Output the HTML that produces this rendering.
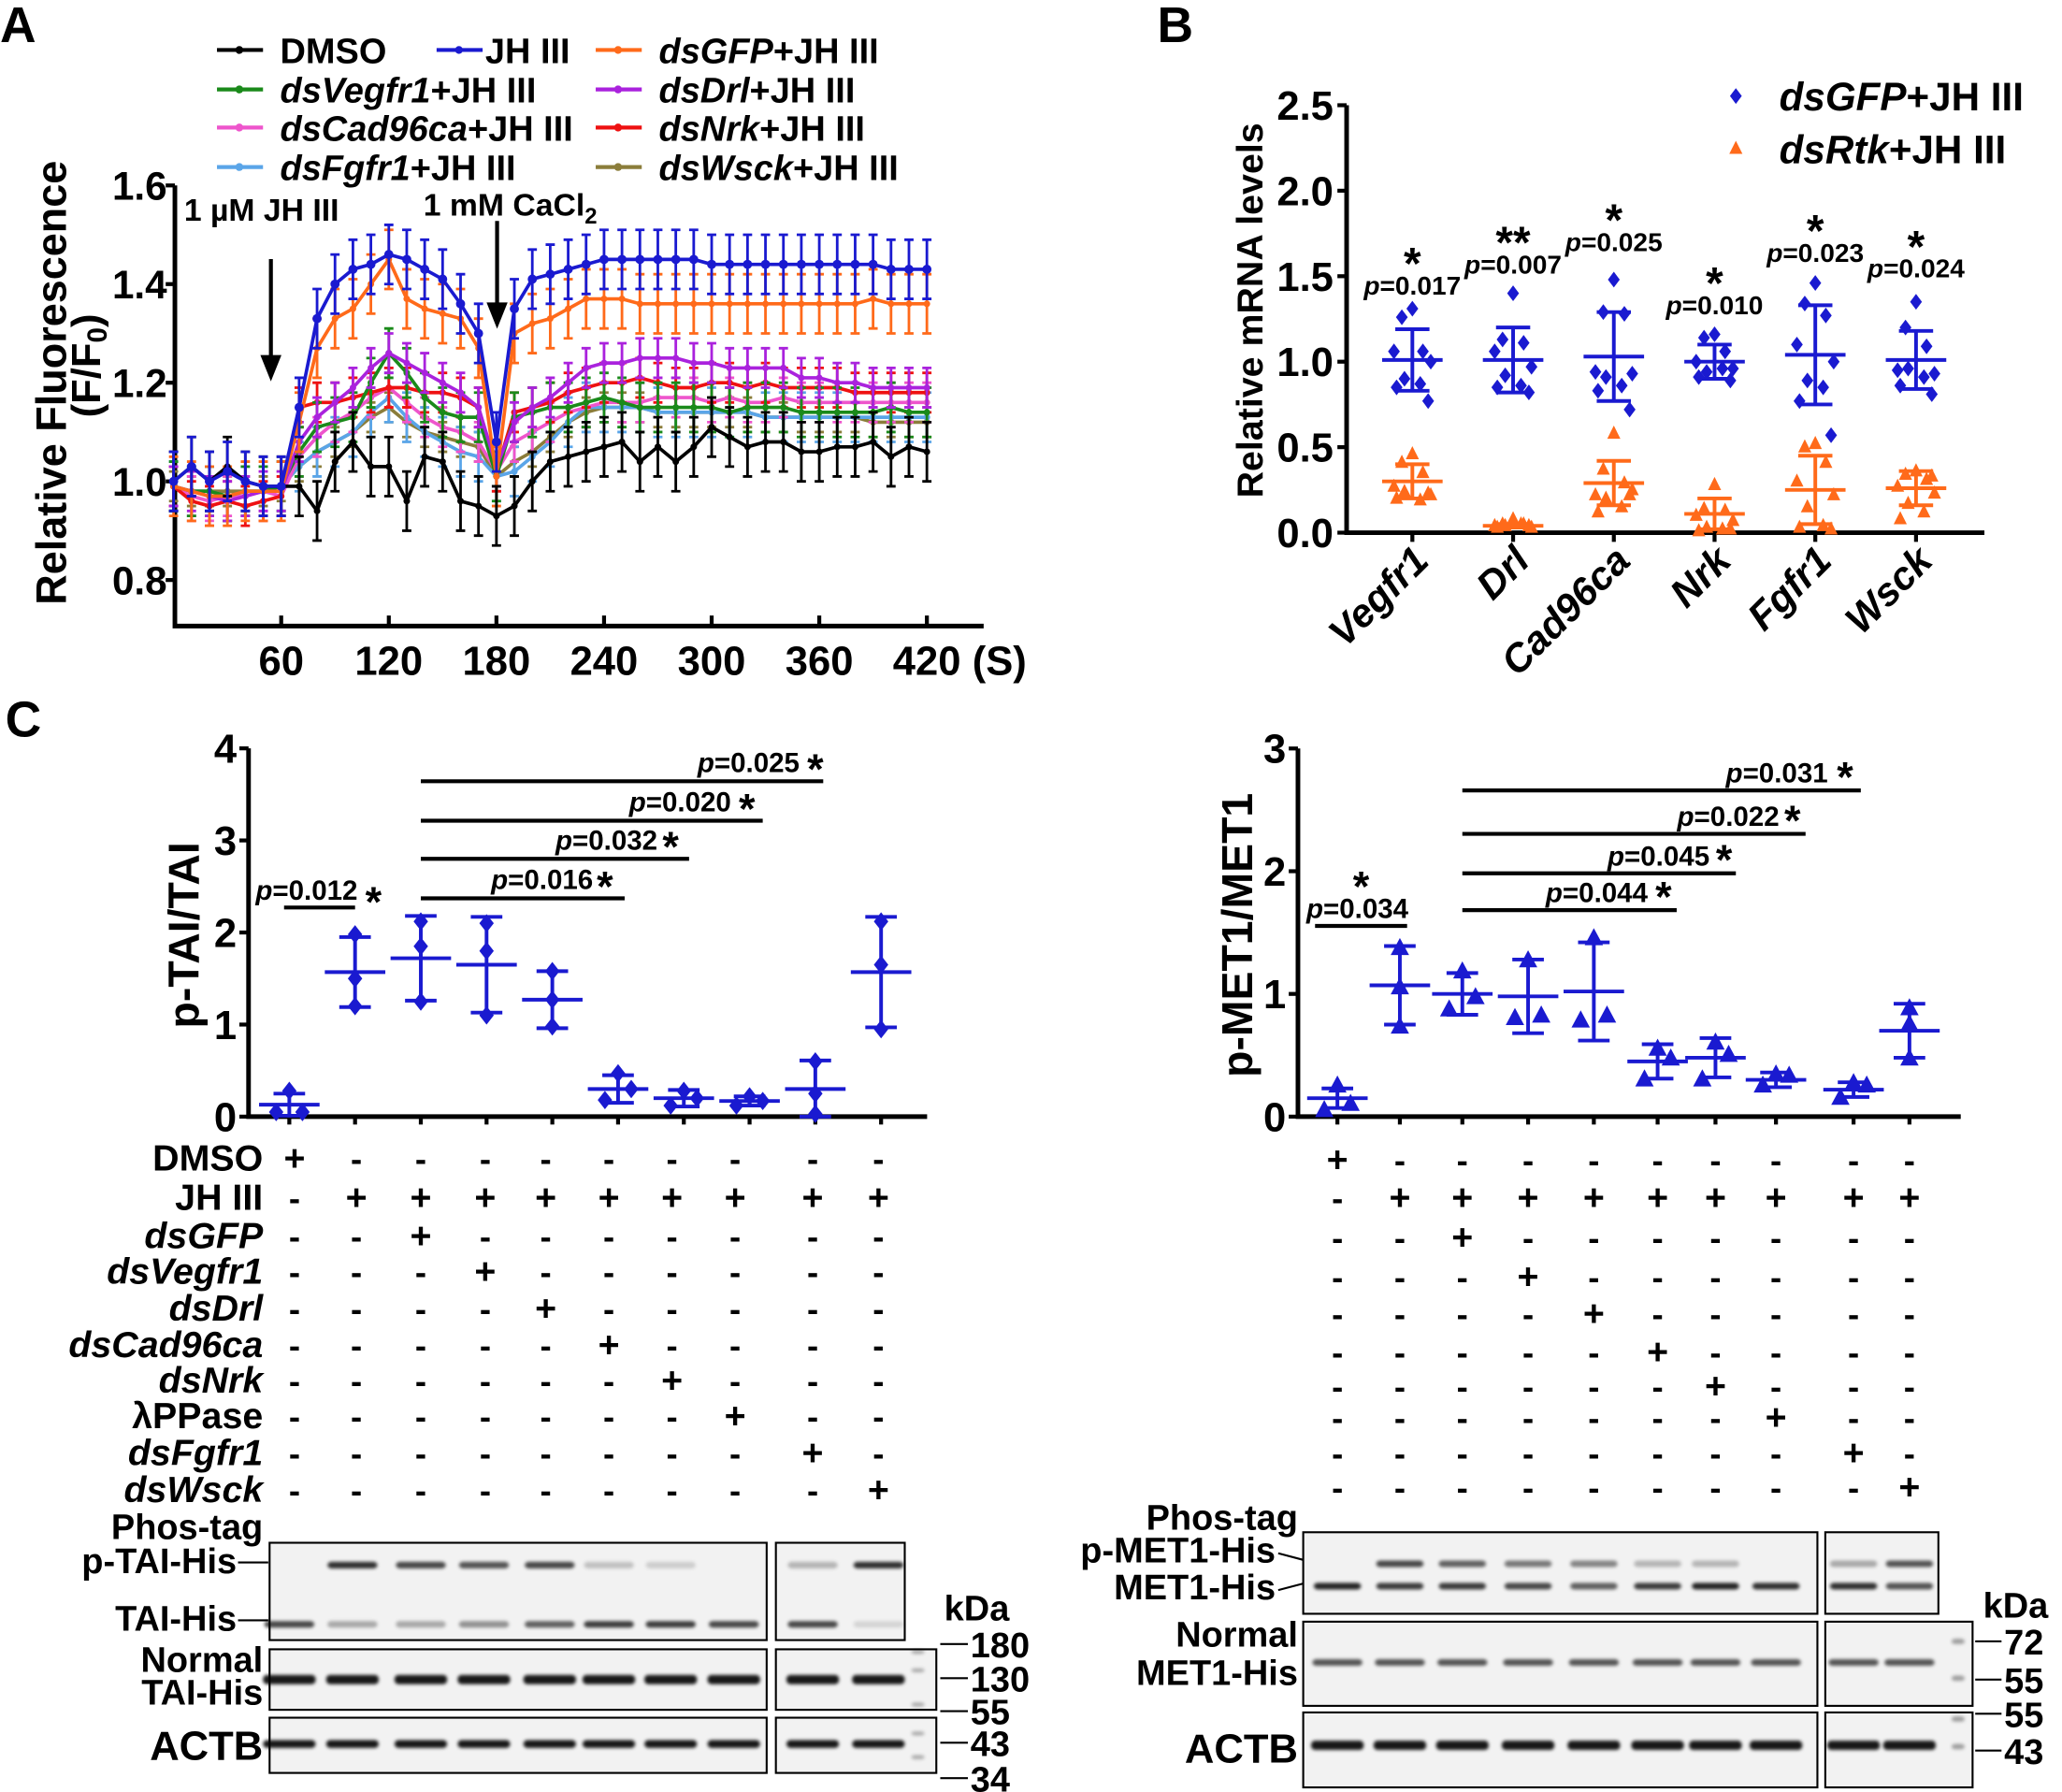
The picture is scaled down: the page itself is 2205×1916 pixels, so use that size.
<!DOCTYPE html>
<html><head><meta charset="utf-8"><style>
html,body{margin:0;padding:0;background:#fff;}
svg{display:block;}
text{font-family:"Liberation Sans",Arial,sans-serif;font-weight:bold;fill:#000;}
</style></head><body>
<svg id="fig" xmlns="http://www.w3.org/2000/svg" width="2205" height="1916" viewBox="0 0 1568 1362.5" preserveAspectRatio="none">
<defs><filter id="blur" x="-20%" y="-200%" width="140%" height="500%"><feGaussianBlur stdDeviation="1.4"/></filter></defs>
<rect x="0" y="0" width="1568" height="1362.5" fill="#fff"/>
<text x="0" y="32" font-size="38">A</text>
<text x="880" y="32" font-size="38">B</text>
<text x="4" y="560" font-size="38">C</text>
<g id="gA"></g>
<g id="gB"></g>
<g id="gC1"></g>
<g id="gC2"></g>
<g id="gBlot"></g>
</svg>
<script>
// ---------- Panel A data ----------
const tA=[0,10,20,30,40,50,60,70,80,90,100,110,120,130,140,150,160,170,180,190,200,210,220,230,240,250,260,270,280,290,300,310,320,330,340,350,360,370,380,390,400,410,420];
const sDMSO=[1.0,1.03,1.0,1.03,1.0,0.99,0.99,0.99,0.94,1.04,1.08,1.03,1.03,0.96,1.05,1.04,0.96,0.95,0.93,0.95,1.00,1.04,1.05,1.06,1.07,1.08,1.04,1.07,1.04,1.07,1.11,1.09,1.07,1.08,1.08,1.06,1.06,1.07,1.07,1.08,1.05,1.07,1.06];
const sJH=[1.0,1.03,1.0,1.02,1.0,0.99,0.99,1.15,1.33,1.40,1.43,1.44,1.46,1.45,1.43,1.41,1.36,1.30,1.08,1.35,1.41,1.42,1.43,1.44,1.45,1.45,1.45,1.45,1.45,1.45,1.44,1.44,1.44,1.44,1.44,1.44,1.44,1.44,1.44,1.44,1.43,1.43,1.43];
const sGFP=[0.99,0.98,0.97,0.97,0.98,0.98,0.98,1.12,1.27,1.33,1.35,1.40,1.45,1.37,1.35,1.34,1.33,1.27,1.01,1.30,1.32,1.33,1.35,1.37,1.37,1.37,1.36,1.36,1.36,1.36,1.36,1.36,1.36,1.36,1.36,1.36,1.36,1.36,1.36,1.37,1.36,1.36,1.36];
const sVegfr1=[0.99,0.98,0.98,0.97,0.98,0.98,0.99,1.06,1.11,1.12,1.13,1.20,1.26,1.22,1.17,1.14,1.13,1.13,1.01,1.13,1.14,1.15,1.15,1.16,1.17,1.16,1.15,1.15,1.15,1.15,1.15,1.14,1.15,1.15,1.15,1.14,1.14,1.14,1.14,1.14,1.15,1.14,1.14];
const sDrl=[0.99,0.98,0.97,0.96,0.97,0.98,0.98,1.08,1.13,1.16,1.19,1.23,1.26,1.24,1.22,1.20,1.18,1.15,1.03,1.12,1.15,1.17,1.20,1.23,1.24,1.24,1.25,1.25,1.25,1.24,1.24,1.23,1.23,1.23,1.23,1.21,1.21,1.20,1.20,1.19,1.19,1.19,1.19];
const sCad=[0.99,0.97,0.96,0.97,0.97,0.98,0.97,1.05,1.09,1.12,1.14,1.17,1.19,1.16,1.13,1.11,1.10,1.08,1.02,1.08,1.10,1.12,1.14,1.15,1.16,1.16,1.16,1.17,1.17,1.17,1.16,1.17,1.16,1.16,1.17,1.16,1.16,1.16,1.16,1.16,1.16,1.16,1.16];
const sNrk=[0.99,0.96,0.95,0.96,0.95,0.96,0.97,1.15,1.16,1.16,1.17,1.18,1.19,1.19,1.18,1.18,1.17,1.15,1.02,1.14,1.15,1.16,1.18,1.19,1.20,1.20,1.21,1.20,1.19,1.19,1.20,1.20,1.19,1.20,1.19,1.19,1.19,1.19,1.18,1.18,1.18,1.18,1.18];
const sFgfr1=[0.99,0.98,0.98,0.97,0.98,0.98,0.99,1.03,1.06,1.08,1.10,1.14,1.17,1.13,1.10,1.08,1.06,1.05,1.01,1.02,1.05,1.08,1.12,1.15,1.15,1.15,1.15,1.14,1.14,1.14,1.14,1.14,1.14,1.13,1.13,1.13,1.13,1.13,1.13,1.13,1.13,1.13,1.13];
const sWsck=[0.99,0.98,0.98,0.98,0.98,0.98,0.99,1.03,1.06,1.08,1.10,1.13,1.15,1.12,1.10,1.09,1.08,1.07,1.01,1.04,1.06,1.09,1.12,1.14,1.15,1.15,1.15,1.14,1.14,1.14,1.14,1.14,1.14,1.13,1.13,1.13,1.13,1.13,1.13,1.12,1.12,1.12,1.12];
const errA=[0.06,0.06,0.06,0.05,0.04,0.04,0.04,0.05,0.03];
const yTicksA=[0.8,1.0,1.2,1.4,1.6];
const xTicksA=[60,120,180,240,300,360,420];

// ---------- Panel B data ----------
const genesB=["Vegfr1","Drl","Cad96ca","Nrk","Fgfr1","Wsck"];
const gfpMean=[1.01,1.01,1.03,1.0,1.04,1.01];
const gfpSD=[0.18,0.19,0.26,0.10,0.29,0.17];
const gfpPts=[[1.31,1.26,1.06,1.06,1.0,0.9,0.87,0.85,0.77],[1.4,1.13,1.11,1.06,0.97,0.92,0.86,0.85,0.82],[1.48,1.29,1.28,0.94,0.93,0.91,0.86,0.83,0.72],[1.16,1.14,1.06,1.0,0.96,0.94,0.96,0.91,0.89],[1.46,1.34,1.27,1.1,1.0,0.89,0.85,0.77,0.57],[1.35,1.2,1.09,0.95,0.93,0.96,0.91,0.86,0.81]];
const rtkMean=[0.30,0.04,0.29,0.11,0.25,0.26];
const rtkSD=[0.10,0.01,0.13,0.09,0.20,0.10];
const rtkPts=[[0.46,0.41,0.35,0.27,0.22,0.24,0.19,0.2,0.23],[0.08,0.05,0.05,0.04,0.03,0.04,0.05,0.03,0.04],[0.58,0.37,0.29,0.22,0.25,0.20,0.15,0.12,0.22],[0.28,0.14,0.13,0.10,0.07,0.03,0.02,0.01,0.02],[0.52,0.50,0.41,0.30,0.22,0.15,0.04,0.03,0.02],[0.36,0.34,0.31,0.27,0.23,0.17,0.12,0.08,0.33]];
const pLabB=["p=0.017","p=0.007","p=0.025","p=0.010","p=0.023","p=0.024"];
const starB=["*","**","*","*","*","*"];
const yTicksB=[0,0.5,1.0,1.5,2.0,2.5];

// ---------- Panel C data ----------
const taiMean=[0.13,1.57,1.72,1.65,1.27,0.30,0.20,0.17,0.30,1.57];
const taiSD=[0.12,0.38,0.46,0.52,0.31,0.15,0.09,0.05,0.31,0.60];
const taiPts=[[0.28,0.05,0.05],[1.98,1.5,1.2],[2.12,1.85,1.25],[2.1,1.8,1.1],[1.58,1.27,0.98],[0.47,0.3,0.18],[0.28,0.2,0.12],[0.22,0.17,0.12],[0.6,0.25,0.03],[2.12,1.65,0.95]];
const metMean=[0.15,1.07,1.0,0.98,1.02,0.45,0.48,0.30,0.22,0.70];
const metSD=[0.08,0.32,0.17,0.30,0.40,0.14,0.16,0.06,0.06,0.22];
const metPts=[[0.25,0.1,0.05],[1.37,1.05,0.73],[1.18,0.97,0.87],[1.27,0.82,0.8],[1.45,0.82,0.78],[0.55,0.47,0.3],[0.6,0.5,0.3],[0.34,0.33,0.25],[0.27,0.25,0.15],[0.88,0.75,0.47]];
const treatRows=["DMSO","JH III","dsGFP","dsVegfr1","dsDrl","dsCad96ca","dsNrk","λPPase","dsFgfr1","dsWsck"];
const treatPlusCol=[[0],[1,2,3,4,5,6,7,8,9],[2],[3],[4],[5],[6],[7],[8],[9]];
const taiBandP=[0,0.8,0.7,0.65,0.7,0.2,0.15,0,0.25,0.8];
const taiBandU=[0.7,0.3,0.3,0.4,0.6,0.75,0.75,0.7,0.7,0.12];
const metBandP=[0,0.7,0.6,0.5,0.45,0.25,0.25,0,0.3,0.65];
const metBandU=[0.85,0.75,0.75,0.7,0.6,0.75,0.85,0.8,0.8,0.65];

const NS="http://www.w3.org/2000/svg";
function mk(tag,attrs,parent){const e=document.createElementNS(NS,tag);for(const k in attrs)e.setAttribute(k,attrs[k]);parent.appendChild(e);return e;}
function txt(s,x,y,size,parent,anchor,extra){const t=mk("text",Object.assign({x:x,y:y,"font-size":size,"text-anchor":anchor||"start"},extra||{}),parent);t.textContent=s;return t;}

// ================= Panel A =================
(function(){
const g=document.getElementById("gA");
const X=t=>132+t*(491/360);
const Y=v=>366-(v-1)*375;
const ax=mk("path",{d:"M133,141 V476 H748",fill:"none",stroke:"#000","stroke-width":3.5},g);


yTicksA.forEach(v=>{
 const l=mk("line",{x1:126,x2:133,y1:Y(v),y2:Y(v),stroke:"#000","stroke-width":3},g);
 
 
 const t=txt(v.toFixed(1),127,Y(v)+11,30,g,"end");
 
 
});
xTicksA.forEach(v=>{
 const l=mk("line",{x1:X(v),x2:X(v),y1:476,y2:468,stroke:"#000","stroke-width":3},g);
 
 
 const t=txt(String(v),X(v),513,31,g,"middle");
 
 
});
const su=txt("(S)",760,513,31,g,"middle");


const yl=mk("text",{x:0,y:0,"font-size":32,"text-anchor":"middle",transform:"translate(50,291) rotate(-90)"},g);
yl.textContent="Relative Fluorescence";


const yl2=mk("text",{x:0,y:0,"font-size":31,"text-anchor":"middle",transform:"translate(76,278) rotate(-90)"},g);
yl2.innerHTML='(F/F<tspan font-size="21" dy="5">0</tspan><tspan dy="-5">)</tspan>';


const a1=txt("1 µM JH III",140,168,24,g,"start");


const a2=mk("text",{x:322,y:164,"font-size":24},g);
a2.innerHTML='1 mM CaCl<tspan font-size="17" dy="6">2</tspan>';


[[206,197,290],[378,168,250]].forEach(a=>{
 const p=mk("g",{},g);
 
 
 mk("line",{x1:a[0],x2:a[0],y1:a[1],y2:a[2]-18,stroke:"#000","stroke-width":3},p);
 mk("polygon",{points:`${a[0]-8},${a[2]-20} ${a[0]+8},${a[2]-20} ${a[0]},${a[2]}`,fill:"#000"},p);
});
const series=[
 {n:"dsWsck",d:sWsck,c:"#8b7d3a",e:errA[8]},
 {n:"dsFgfr1",d:sFgfr1,c:"#5aa5e8",e:errA[7]},
 {n:"dsCad96ca",d:sCad,c:"#ee55cc",e:errA[5]},
 {n:"dsNrk",d:sNrk,c:"#ee1111",e:errA[6]},
 {n:"dsVegfr1",d:sVegfr1,c:"#1a8a1a",e:errA[3]},
 {n:"dsDrl",d:sDrl,c:"#aa22dd",e:errA[4]},
 {n:"dsGFP",d:sGFP,c:"#ff6a1a",e:errA[2]},
 {n:"DMSO",d:sDMSO,c:"#000",e:errA[0]},
 {n:"JH",d:sJH,c:"#1a1ad0",e:errA[1]}];
series.forEach(s=>{
 const sg=mk("g",{},g);
 
 
 const n=Math.min(tA.length,s.d.length);
 let d="";
 for(let i=0;i<n;i++){
  const x=X(tA[i]),y=Y(s.d[i]),y1=Y(s.d[i]+s.e),y2=Y(s.d[i]-s.e);
  const eb=mk("path",{d:`M${x},${y1}V${y2}M${x-3.5},${y1}H${x+3.5}M${x-3.5},${y2}H${x+3.5}`,stroke:s.c,"stroke-width":2,fill:"none"},sg);
  
  
  d+=(i?"L":"M")+x+","+y;
 }
 const ln=mk("path",{d:d,stroke:s.c,"stroke-width":2.6,fill:"none"},sg);
 
 
 for(let i=0;i<n;i++){
  const x=X(tA[i]),y=Y(s.d[i]);
  const pt=mk("circle",{cx:x,cy:y,r:s.n==="JH"?3.5:2.5,fill:s.c},sg);
  
  
 }
});
const leg=[["DMSO","",165,38,"#000"],["JH III","",332,38,"#1a1ad0"],["dsGFP","+JH III",453,38,"#ff6a1a"],
["dsVegfr1","+JH III",165,68,"#1a8a1a"],["dsDrl","+JH III",453,68,"#aa22dd"],
["dsCad96ca","+JH III",165,97,"#ee55cc"],["dsNrk","+JH III",453,97,"#ee1111"],
["dsFgfr1","+JH III",165,127,"#5aa5e8"],["dsWsck","+JH III",453,127,"#8b7d3a"]];
leg.forEach(l=>{
 const lg=mk("g",{},g);
 
 
 const tx=l[2]===332?369:l[2]+48;
 mk("line",{x1:l[2],x2:l[2]+35,y1:l[3],y2:l[3],stroke:l[4],"stroke-width":3},lg);
 mk("circle",{cx:l[2]+17,cy:l[3],r:3,fill:l[4]},lg);
 const t=mk("text",{x:tx,y:l[3]+10,"font-size":27},lg);
 if(l[1]) t.innerHTML='<tspan font-style="italic">'+l[0]+'</tspan>'+l[1]; else t.textContent=l[0];
});
})();

// ================= Panel B =================
(function(){
const g=document.getElementById("gB");
const Y=v=>405-v*130;
const X=i=>1074+i*76.6;
const ax=mk("path",{d:"M1024,80 V405 H1509",fill:"none",stroke:"#000","stroke-width":3.5},g);


yTicksB.forEach(v=>{
 const l=mk("line",{x1:1017,x2:1024,y1:Y(v),y2:Y(v),stroke:"#000","stroke-width":3},g);
 
 
 const t=txt(v.toFixed(1),1014,Y(v)+11,31,g,"end");
 
 
});
const yl=mk("text",{x:0,y:0,"font-size":28,"text-anchor":"middle",transform:"translate(960,236) rotate(-90)"},g);
yl.textContent="Relative mRNA levels";


const pY=[224,208,191,239,199,211];
genesB.forEach((gn,i)=>{
 const x=X(i);
 const tk=mk("line",{x1:x,x2:x,y1:405,y2:412,stroke:"#000","stroke-width":3},g);
 
 
 const lb=mk("text",{x:0,y:0,"font-size":30,"font-style":"italic","text-anchor":"end",transform:`translate(${x+14},${428}) rotate(-45)`},g);
 lb.textContent=gn;
 
 
 [[gfpMean,gfpSD,gfpPts,"#1a1ad0","dia"],[rtkMean,rtkSD,rtkPts,"#ff6a1a","tri"]].forEach(S=>{
  const m=S[0][i],sd=S[1][i];
  const eb=mk("path",{d:`M${x-23},${Y(m)}H${x+23}M${x},${Y(m+sd)}V${Y(m-sd)}M${x-13},${Y(m+sd)}H${x+13}M${x-13},${Y(m-sd)}H${x+13}`,stroke:S[3],"stroke-width":2.8,fill:"none"},g);
  
  
  S[2][i].forEach((v,j)=>{
   const dx=[0,-8,8,-14,14,-6,6,-12,12][j];
   const px=x+dx,py=Y(v);
   const pts=S[4]==="dia"?`${px},${py-6} ${px+4.5},${py} ${px},${py+6} ${px-4.5},${py}`:`${px},${py-6} ${px+5},${py+4} ${px-5},${py+4}`;
   const p=mk("polygon",{points:pts,fill:S[3]},g);
   
   
  });
 });
 const pl=mk("text",{x:x,y:pY[i],"font-size":20,"text-anchor":"middle"},g);
 pl.innerHTML='<tspan font-style="italic">p</tspan>'+pLabB[i].slice(1);
 
 
 const st=txt(starB[i],x,pY[i]-12,34,g,"middle");
 
 
});
[["dsGFP",1320,73,"#1a1ad0","dia"],["dsRtk",1320,113,"#ff6a1a","tri"]].forEach(l=>{
 const lg=mk("g",{},g);
 
 
 const px=l[1],py=l[2];
 mk("polygon",{points:l[4]==="dia"?`${px},${py-6} ${px+4.5},${py} ${px},${py+6} ${px-4.5},${py}`:`${px},${py-6} ${px+5},${py+4} ${px-5},${py+4}`,fill:l[3]},lg);
 const t=mk("text",{x:1353,y:py+11,"font-size":30},lg);
 t.innerHTML='<tspan font-style="italic">'+l[0]+'</tspan>+JH III';
});
})();

// ================= Panel C charts =================
function dotChart(gid,cfg){
 const g=document.getElementById(gid);
 const Y=v=>cfg.y0-v*cfg.unit;
 const X=i=>cfg.cols[i];
 const ax=mk("path",{d:`M${cfg.ax},${Y(cfg.max)} V${cfg.y0} H${cfg.xEnd}`,fill:"none",stroke:"#000","stroke-width":3.5},g);
 
 
 for(let v=0;v<=cfg.max;v++){
  const l=mk("line",{x1:cfg.ax-7,x2:cfg.ax,y1:Y(v),y2:Y(v),stroke:"#000","stroke-width":3},g);
  
  
  const t=txt(String(v),cfg.ax-9,Y(v)+11,31,g,"end");
  
  
 }
 const yl=mk("text",{x:0,y:0,"font-size":33,"text-anchor":"middle",transform:`translate(${cfg.ylx},711) rotate(-90)`},g);
 yl.textContent=cfg.title;
 
 
 cfg.mean.forEach((m,i)=>{
  const x=X(i),sd=cfg.sd[i];
  const tk=mk("line",{x1:x,x2:x,y1:cfg.y0,y2:cfg.y0+6,stroke:"#000","stroke-width":3},g);
  
  
  const lo=Math.max(0,m-sd);
  const eb=mk("path",{d:`M${x-23},${Y(m)}H${x+23}M${x},${Y(m+sd)}V${Y(lo)}M${x-12},${Y(m+sd)}H${x+12}M${x-12},${Y(lo)}H${x+12}`,stroke:"#1a1ad0","stroke-width":2.8,fill:"none"},g);
  
  
  cfg.pts[i].forEach((v,j)=>{
   const dx=[0,10,-10][j]*(cfg.spread[i]),px=x+dx,py=Y(v);
   const pts=cfg.mk==="dia"?`${px},${py-7} ${px+5.5},${py} ${px},${py+7} ${px-5.5},${py}`:`${px},${py-8} ${px+7},${py+5} ${px-7},${py+5}`;
   const p=mk("polygon",{points:pts,fill:"#1a1ad0"},g);
   
   
  });
 });
 cfg.sig.forEach(s=>{
  const l=mk("line",{x1:s[0],x2:s[1],y1:s[2],y2:s[2],stroke:"#000","stroke-width":3},g);
  
  
  const t=mk("text",{x:s[3],y:s[4],"font-size":21,"text-anchor":"end"},g);
  t.innerHTML='<tspan font-style="italic">p</tspan>'+s[5];
  
  
  const st=txt("*",s[6],s[7],32,g,"middle");
  
  
 });
 treatRows.forEach((r,ri)=>{
  const ry=cfg.rows[ri];
  if(cfg.labels){
   const it=!(r==="DMSO"||r==="JH III"||r==="λPPase");
   const t=txt(r,200,ry+9,28,g,"end",it?{"font-style":"italic"}:{});
   
   
  }
  cfg.tcols.forEach((cx,ci)=>{
   const plus=treatPlusCol[ri].indexOf(ci)>=0;
   const t=txt(plus?"+":"-",cx,ry+9,plus?28:26,g,"middle");
   
   
  });
 });
}
dotChart("gC1",{y0:849,unit:70,max:4,ax:189,xEnd:705,ylx:151,title:"p-TAI/TAI",mk:"dia",
 cols:[220,270,320,370,420,470,520,570,620,670],
 tcols:[224,271,320,369,415,463,511,559,618,668],mean:taiMean,sd:taiSD,pts:taiPts,
 spread:[1,0,0,0,0,1,1,1,0,0],
 rows:[881,911,940,967,995,1023,1050,1077,1105,1133],labels:true,
 sig:[[216,270,690,272,684,"=0.012",284,697],[320,475,683,451,676,"=0.016",460,685],[320,524,653,500,646,"=0.032",510,655],[320,580,624,556,617,"=0.020",568,626],[320,626,594,608,587,"=0.025",620,596]]});
dotChart("gC2",{y0:849,unit:93.3,max:3,ax:987,xEnd:1491,ylx:952,title:"p-MET1/MET1",mk:"tri",
 cols:[1017,1064.5,1112,1162,1212,1260.5,1304.5,1350.5,1409.5,1452],
 tcols:[1017,1064.5,1112,1162,1212,1260.5,1304.5,1350.5,1409.5,1452],mean:metMean,sd:metSD,pts:metPts,
 spread:[1,0,1,1,1,1,1,1,1,0],
 rows:[882,911,941,971,999,1028,1054,1078,1105,1131],labels:false,
 sig:[[1000,1070,704,1071,698,"=0.034",1035,685],[1112,1275,692,1253,686,"=0.044",1265,693],[1112,1320,664,1300,658,"=0.045",1311,665],[1112,1373,634,1353,628,"=0.022",1363,635],[1112,1415,601,1390,595,"=0.031",1403,602]]});

// ================= Blots =================
(function(){
const g=document.getElementById("gBlot");
function box(x,y,w,h){const r=mk("rect",{x:x,y:y,width:w,height:h,fill:"#f2f2f2",stroke:"#000","stroke-width":1.5},g);}
function band(x,y,w,inten,h){if(inten<=0)return;const b=mk("rect",{x:x-w/2,y:y-(h||2.5),width:w,height:2*(h||2.5),rx:3,fill:"#000","fill-opacity":inten,filter:"url(#blur)"},g);}
function lab(s,x,y,size,anchor){const t=txt(s,x,y,size||27,g,anchor||"end");}
const cL=[220,268,320,368,418,463,510,558,618,668];
box(205,1173,378,74);box(590,1173,98,74);
box(205,1254,378,46);box(590,1254,122,46);
box(205,1306,378,42);box(590,1306,122,42);
cL.forEach((x,i)=>{band(x,1190,38,taiBandP[i]);band(x,1235,38,taiBandU[i]);band(x,1277,40,0.9,3.5);band(x,1326,40,0.9,3);});
[1256,1270,1296,1318,1336].forEach(y=>band(698,y,10,0.3,1.5));
lab("Phos-tag",200,1170);lab("p-TAI-His",180,1196);lab("TAI-His",180,1240);
mk("line",{x1:181,x2:204,y1:1188,y2:1188,stroke:"#000","stroke-width":1.5},g);
mk("line",{x1:181,x2:204,y1:1232,y2:1232,stroke:"#000","stroke-width":1.5},g);
lab("Normal",200,1271);lab("TAI-His",200,1296);lab("ACTB",200,1338,31);
lab("kDa",718,1232,27,"start");
[["180",1260],["130",1286],["55",1311],["43",1335],["34",1362]].forEach(k=>{lab(k[0],738,k[1],27,"start");mk("line",{x1:715,x2:736,y1:k[1]-10,y2:k[1]-10,stroke:"#000","stroke-width":1.5},g);});
const cR=[1017,1064.5,1112,1162,1212,1260.5,1304.5,1350.5,1409.5,1452];
box(991,1165,391,62);box(1388,1165,86,62);
box(991,1233,391,64);box(1388,1233,112,64);
box(991,1302,391,57);box(1388,1302,112,57);
cR.forEach((x,i)=>{band(x,1189,36,metBandP[i]);band(x,1206,36,metBandU[i]);band(x,1264,38,0.65);band(x,1327,40,0.9,3.5);});
[1248,1276,1307,1328].forEach(y=>band(1489,y,10,0.35,2));
lab("Phos-tag",987,1163);lab("p-MET1-His",970,1188);lab("MET1-His",970,1216);
mk("line",{x1:972,x2:991,y1:1181,y2:1186,stroke:"#000","stroke-width":1.5},g);
mk("line",{x1:972,x2:991,y1:1209,y2:1204,stroke:"#000","stroke-width":1.5},g);
lab("Normal",987,1252);lab("MET1-His",987,1281);lab("ACTB",987,1340,31);
lab("kDa",1508,1230,27,"start");
[["72",1258],["55",1287],["55",1313],["43",1341]].forEach(k=>{lab(k[0],1524,k[1],27,"start");mk("line",{x1:1502,x2:1522,y1:k[1]-10,y2:k[1]-10,stroke:"#000","stroke-width":1.5},g);});
})();
</script>
</body></html>
